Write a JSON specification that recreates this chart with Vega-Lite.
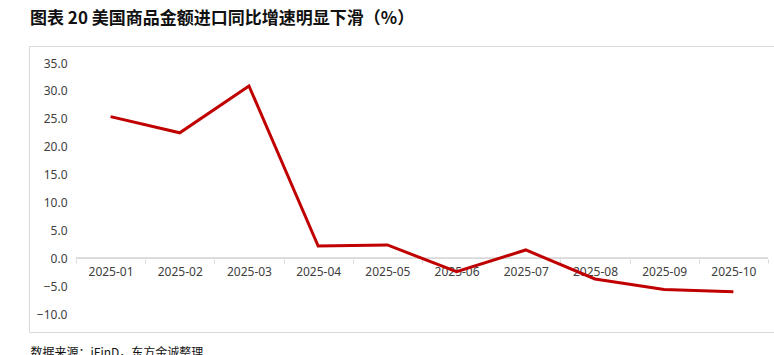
{
  "$schema": "https://vega.github.io/schema/vega-lite/v6.json",
  "autosize": {"type": "none"},
  "width": 746,
  "height": 286,
  "padding": {"left": 29, "top": 46, "right": 0, "bottom": 23},
  "background": "white",
  "title": {
    "text": "图表 20 美国商品金额进口同比增速明显下滑（%）",
    "anchor": "start",
    "frame": "group",
    "offset": 1,
    "baseline": "bottom",
    "dx": 1,
    "font": "Noto Sans CJK SC",
    "fontSize": 17,
    "fontWeight": "bold",
    "color": "#111111"
  },
  "config": {
    "view": {"stroke": "#d9d9d9", "strokeWidth": 1},
    "axis": {"labelFont": "Noto Sans", "labelFontSize": 12, "labelColor": "#404040", "grid": false}
  },
  "data": {
    "values": [
      {"month": "2025-01", "value": 25.4},
      {"month": "2025-02", "value": 22.5},
      {"month": "2025-03", "value": 30.9},
      {"month": "2025-04", "value": 2.2},
      {"month": "2025-05", "value": 2.4},
      {"month": "2025-06", "value": -2.4},
      {"month": "2025-07", "value": 1.5},
      {"month": "2025-08", "value": -3.7},
      {"month": "2025-09", "value": -5.6},
      {"month": "2025-10", "value": -6.0}
    ]
  },
  "layer": [
    {
      "mark": {"type": "rule", "color": "#d9d9d9", "strokeWidth": 1},
      "encoding": {
        "y": {
          "datum": 0,
          "type": "quantitative",
          "scale": {"domain": [-13.2, 38.05], "nice": false, "zero": false},
          "axis": {
            "values": [-10, -5, 0, 5, 10, 15, 20, 25, 30, 35],
            "format": ".1f",
            "offset": -40,
            "domain": false,
            "ticks": false,
            "tickSize": 0,
            "labelPadding": 2,
            "labelOverlap": false,
            "labelBound": false,
            "title": null
          }
        },
        "x": {"datum": "2025-01", "bandPosition": 0},
        "x2": {"datum": "2025-10", "bandPosition": 1}
      }
    },
    {
      "mark": {"type": "line", "color": "#C00000", "strokeWidth": 3, "strokeJoin": "miter"},
      "encoding": {
        "x": {
          "field": "month",
          "type": "ordinal",
          "scale": {"type": "band", "paddingInner": 0, "paddingOuter": 0.39, "align": 0.87},
          "axis": {
            "orient": "bottom",
            "offset": -73,
            "domain": false,
            "ticks": true,
            "tickBand": "extent",
            "tickColor": "#d9d9d9",
            "tickSize": 4,
            "labelPadding": 8,
            "labelAngle": 0,
            "labelAlign": "center",
            "labelOverlap": false,
            "title": "数据来源：iFinD，东方金诚整理",
            "titleFont": "Noto Sans CJK SC",
            "titleFontSize": 12,
            "titleFontWeight": "normal",
            "titleColor": "#111111",
            "titleAnchor": "start",
            "titleAlign": "left",
            "titleBaseline": "top",
            "titleX": 1,
            "titleY": 88
          }
        },
        "y": {
          "field": "value",
          "type": "quantitative",
          "scale": {"domain": [-13.2, 38.05], "nice": false, "zero": false},
          "axis": {
            "values": [-10, -5, 0, 5, 10, 15, 20, 25, 30, 35],
            "format": ".1f",
            "offset": -40,
            "domain": false,
            "ticks": false,
            "tickSize": 0,
            "labelPadding": 2,
            "labelOverlap": false,
            "labelBound": false,
            "title": null
          }
        }
      }
    }
  ]
}
